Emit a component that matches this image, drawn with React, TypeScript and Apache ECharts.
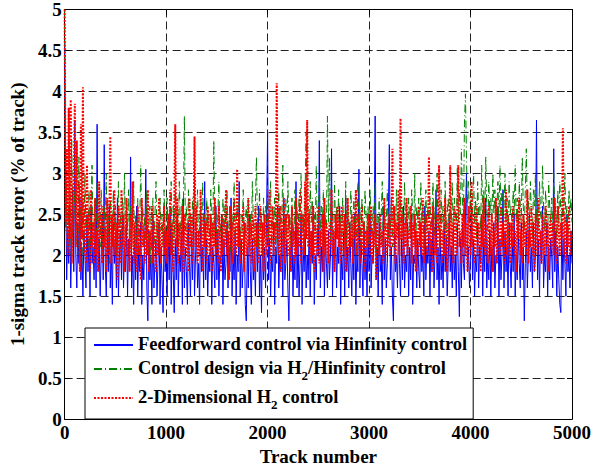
import React, { useEffect, useRef } from "react";
import * as echarts from "echarts";

// ---- data ----
const X_TICKS = [0, 1000, 2000, 3000, 4000, 5000];
const Y_TICKS = [0, 0.5, 1, 1.5, 2, 2.5, 3, 3.5, 4, 4.5, 5];
const TRACK_STEP = 10; // tracks between consecutive samples

const SERIES_NAMES = [
  "Feedforward control via Hinfinity control",
  "Control design via H2/Hinfinity control",
  "2-Dimensional H2 control",
];

const FEEDFORWARD = [
  4.6, 2.9, 1.7, 2.3, 1.9, 2.6, 1.6, 2.2, 2.8, 1.8,
  3.65, 2.0, 1.6, 2.4, 1.9, 2.7, 1.7, 2.1, 1.5, 2.3,
  2.0, 1.6, 2.5, 1.8, 2.2, 1.5, 2.6, 1.9, 2.1, 1.7,
  2.4, 1.6, 3.6, 1.8, 2.2, 1.5, 2.0, 2.5, 1.7, 3.35,
  1.9, 1.5, 2.3, 1.8, 2.6, 1.6, 2.1, 1.4, 2.4, 1.9,
  2.2, 1.6, 2.7, 1.5, 2.0, 2.3, 1.7, 2.5, 1.6, 2.1,
  1.8, 2.4, 1.5, 2.2, 1.9, 3.2, 1.6, 2.0, 1.4, 2.3,
  1.7, 2.6, 1.5, 2.1, 1.8, 2.4, 1.4, 2.0, 1.7, 2.2,
  3.05, 1.6, 1.2, 2.3, 1.7, 2.0, 1.4, 2.5, 1.6, 1.9,
  2.2, 1.5, 1.9, 2.4, 1.4, 2.1, 1.7, 1.3, 2.3, 1.8,
  2.0, 1.5, 2.4, 1.7, 2.6, 1.4, 2.1, 1.8, 1.3, 2.2,
  1.7, 2.5, 1.5, 2.0, 1.8, 2.3, 1.4, 2.7, 1.6, 2.1,
  1.8, 1.4, 2.4, 1.9, 1.5, 2.2, 1.7, 2.6, 1.5, 2.0,
  2.3, 1.6, 1.9, 1.4, 2.5, 1.8, 2.1, 1.6, 2.9, 1.7,
  2.2, 1.5, 2.0, 1.8, 2.4, 1.4, 2.1, 1.9, 1.6, 2.6,
  1.7, 2.3, 1.5, 2.0, 1.9, 2.5, 1.4, 2.2, 1.7, 1.9,
  2.4, 1.6, 2.1, 1.8, 2.7, 1.5, 2.0, 1.7, 2.3, 1.4,
  2.0, 1.8, 2.9, 1.5, 2.2, 1.6, 1.9, 2.4, 1.4, 1.2,
  2.1, 1.6, 2.5, 1.8, 1.4, 2.2, 1.7, 2.0, 1.5, 2.4,
  1.8, 2.6, 1.5, 2.0, 1.3, 2.3, 1.7, 2.1, 1.6, 2.5,
  3.5, 1.7, 2.2, 1.5, 2.0, 1.8, 2.4, 1.4, 2.1, 1.9,
  2.6, 1.6, 2.0, 1.8, 2.3, 1.5, 2.7, 1.7, 1.9, 2.2,
  1.6, 1.2, 2.1, 1.8, 2.4, 1.5, 2.0, 1.7, 2.9, 1.6,
  2.2, 1.5, 1.9, 2.5, 1.4, 2.1, 1.8, 2.3, 1.6, 2.0,
  1.7, 2.4, 1.5, 2.2, 1.9, 2.6, 1.4, 2.0, 1.7, 2.3,
  2.0, 3.4, 1.6, 2.1, 1.8, 2.5, 1.5, 2.2, 1.9, 1.6,
  2.3, 1.7, 2.0, 3.3, 1.5, 2.2, 1.8, 2.4, 1.6, 2.1,
  1.9, 2.6, 1.4, 2.0, 1.7, 2.3, 1.5, 2.7, 1.8, 2.1,
  1.6, 2.4, 1.9, 1.5, 2.2, 1.7, 2.5, 1.4, 2.0, 1.8,
  3.05, 1.6, 2.2, 1.9, 1.5, 2.4, 1.7, 2.1, 1.5, 2.3,
  1.8, 2.5, 1.6, 2.0, 1.9, 2.3, 3.7, 1.7, 2.1, 1.5,
  2.4, 1.8, 2.0, 1.4, 2.6, 1.7, 2.2, 1.6, 1.9, 2.5,
  3.35, 1.7, 2.1, 1.5, 1.2, 2.3, 1.8, 2.0, 1.6, 2.4,
  1.9, 1.5, 2.2, 1.7, 2.6, 1.6, 2.0, 1.8, 2.4, 1.5,
  2.1, 1.7, 2.5, 1.4, 2.0, 1.9, 2.3, 1.6, 2.2, 1.8,
  1.6, 2.4, 1.8, 2.0, 1.5, 2.6, 1.7, 2.1, 1.9, 2.3,
  1.5, 2.2, 1.8, 2.5, 1.6, 2.0, 2.8, 1.7, 2.1, 1.4,
  2.3, 1.7, 2.0, 1.6, 2.4, 1.8, 2.2, 1.5, 1.9, 2.5,
  1.8, 2.1, 1.6, 2.3, 1.7, 2.0, 1.5, 2.4, 1.8, 1.25,
  2.2, 1.6, 2.4, 1.9, 1.7, 2.5, 3.0, 1.8, 2.1, 1.6,
  2.0, 2.6, 1.7, 2.2, 1.5, 2.0, 1.8, 2.4, 1.6, 2.1,
  1.9, 2.5, 1.5, 2.2, 1.8, 2.7, 1.6, 2.0, 1.7, 2.3,
  1.5, 2.1, 1.8, 2.4, 1.6, 2.0, 1.9, 2.6, 1.5, 2.2,
  1.7, 2.0, 2.8, 1.6, 2.3, 1.8, 2.1, 1.5, 2.4, 1.9,
  1.6, 2.2, 1.8, 2.5, 1.5, 2.0, 1.7, 2.3, 1.9, 1.6,
  2.4, 1.7, 2.1, 1.2, 1.9, 2.3, 1.6, 2.0, 2.5, 1.8,
  2.1, 1.6, 2.4, 1.8, 2.0, 3.65, 1.7, 2.2, 1.5, 2.3,
  1.9, 2.6, 1.6, 2.0, 1.8, 2.4, 1.5, 2.1, 1.7, 2.2,
  2.0, 1.6, 3.3, 1.8, 2.3, 1.5, 2.1, 1.7, 1.4, 1.3,
  2.4, 1.7, 2.2, 1.9, 1.5, 2.5, 1.8, 2.0, 1.6, 2.3,
  1.9,
];

const H2_HINF = [
  5.0, 2.3, 2.9, 2.1, 2.6, 2.0, 2.7, 3.4, 2.2, 2.5,
  2.8, 2.1, 2.4, 2.0, 3.2, 2.3, 2.6, 1.9, 2.7, 2.2,
  3.0, 2.3, 2.5, 2.1, 2.8, 2.0, 2.6, 3.1, 2.2, 2.4,
  2.7, 2.0, 2.9, 2.3, 2.5, 2.1, 2.8, 2.4, 2.0, 2.6,
  2.3, 3.0, 2.2, 2.5, 1.9, 2.7, 2.4, 2.1, 2.8, 2.3,
  2.6, 2.0, 2.4, 2.9, 2.2, 2.5, 2.0, 2.7, 2.3, 3.0,
  2.1, 2.5, 2.3, 2.8, 2.0, 2.6, 2.2, 2.4, 2.9, 2.1,
  2.5, 2.2, 2.7, 2.0, 2.4, 3.1, 2.3, 2.6, 2.1, 2.5,
  2.2, 2.8, 2.0, 2.4, 2.6, 1.9, 2.3, 2.7, 2.1, 2.5,
  2.9, 2.2, 2.4, 2.0, 2.7, 2.3, 2.5, 2.1, 2.8, 2.2,
  2.4, 2.7, 2.1, 2.5, 2.3, 2.9, 2.0, 2.6, 2.2, 2.8,
  2.3, 2.6, 2.1, 2.9, 2.4, 2.2, 2.7, 2.5, 3.7, 2.3,
  2.6, 2.1, 2.8, 2.3, 2.5, 2.0, 2.7, 2.4, 3.0, 2.2,
  2.5, 2.8, 2.1, 2.4, 2.6, 2.2, 2.9, 2.3, 2.5, 2.0,
  2.7, 2.3, 2.5, 2.1, 2.8, 2.4, 2.2, 3.4, 2.3, 2.6,
  2.1, 2.5, 2.9, 2.2, 2.4, 2.0, 2.7, 2.3, 2.6, 2.2,
  2.8, 2.1, 2.4, 2.6, 2.0, 2.5, 2.3, 2.9, 2.2, 2.4,
  2.6, 2.2, 2.7, 2.0, 2.5, 2.3, 2.8, 2.1, 2.4, 2.6,
  2.3, 2.7, 2.1, 2.5, 2.2, 2.9, 2.4, 2.0, 2.6, 3.2,
  2.4, 2.1, 2.8, 2.3, 2.5, 2.0, 2.7, 2.2, 2.6, 2.4,
  2.8, 2.2, 2.5, 2.9, 2.1, 2.6, 2.3, 2.7, 2.0, 2.5,
  2.3, 2.8, 2.2, 2.6, 2.4, 3.1, 2.1, 2.5, 2.7, 2.2,
  2.9, 2.3, 2.5, 2.1, 2.7, 2.4, 2.2, 2.8, 2.3, 2.6,
  2.2, 2.7, 2.4, 3.0, 2.3, 2.5, 2.1, 2.8, 3.5, 2.4,
  2.6, 2.2, 2.9, 2.4, 2.7, 2.1, 2.5, 2.3, 3.1, 2.2,
  2.5, 2.9, 2.2, 2.6, 2.4, 2.8, 2.1, 2.5, 2.3, 3.7,
  2.4, 3.2, 2.2, 2.7, 2.5, 2.1, 2.9, 2.3, 2.6, 2.2,
  2.8, 2.3, 2.5, 2.0, 2.7, 2.4, 2.2, 2.9, 2.1, 2.6,
  2.4, 2.2, 2.8, 2.5, 2.1, 2.7, 2.3, 2.5, 2.0, 2.9,
  2.3, 2.6, 2.1, 2.7, 2.4, 2.2, 2.8, 2.5, 2.3, 2.6,
  2.1, 2.8, 2.4, 2.2, 2.6, 2.3, 2.9, 2.0, 2.5, 2.4,
  2.7, 2.2, 2.5, 2.9, 2.1, 2.6, 2.3, 2.4, 2.8, 2.2,
  2.5, 2.3, 2.7, 2.1, 2.6, 2.4, 2.2, 2.8, 2.3, 2.5,
  2.0, 2.7, 2.4, 2.6, 2.2, 2.9, 2.3, 2.5, 2.1, 2.7,
  2.4, 2.2, 2.8, 2.5, 2.3, 3.0, 2.1, 2.6, 2.4, 2.7,
  2.2, 2.9, 2.4, 2.6, 2.1, 2.5, 2.8, 2.3, 2.6, 2.4,
  2.7, 2.3, 2.5, 2.9, 2.2, 2.6, 2.4, 3.0, 2.3, 2.5,
  2.1, 2.8, 2.4, 2.6, 2.3, 2.9, 2.2, 2.5, 2.7, 2.3,
  2.6, 2.4, 2.9, 2.2, 2.7, 2.5, 2.3, 3.1, 2.4, 2.8,
  2.5, 3.3, 2.7, 2.4, 3.6, 3.97, 3.2, 2.6, 2.9, 2.4,
  2.8, 2.3, 2.6, 3.0, 2.4, 2.7, 2.2, 2.9, 2.5, 2.6,
  2.3, 3.1, 2.5, 2.8, 2.4, 3.2, 2.6, 2.3, 2.9, 2.5,
  2.7, 2.4, 3.0, 2.5, 2.8, 2.3, 2.6, 2.9, 2.4, 3.1,
  2.5, 2.8, 2.3, 2.6, 3.0, 2.4, 2.7, 2.2, 2.9, 2.5,
  2.6, 2.3, 2.8, 2.5, 3.1, 2.4, 2.7, 2.2, 2.9, 2.6,
  2.4, 3.2, 2.6, 2.3, 2.8, 3.3, 2.5, 2.7, 2.3, 2.9,
  2.5, 2.2, 2.8, 2.6, 3.0, 2.4, 2.7, 2.3, 2.9, 2.5,
  2.4, 3.1, 2.6, 2.3, 2.8, 2.5, 2.2, 2.9, 2.6, 2.4,
  2.7, 2.3, 3.0, 2.5, 2.6, 2.2, 2.8, 2.4, 2.9, 2.5,
  2.3, 2.7, 2.5, 3.0, 2.4, 2.6, 2.2, 2.8, 2.5, 2.7,
  2.4,
];

const TWO_D_H2 = [
  5.0, 2.4, 3.3, 2.0, 3.8, 2.2, 3.9, 1.9, 2.7, 3.0,
  3.85, 2.1, 3.4, 2.3, 2.9, 1.8, 3.6, 2.2, 4.05, 2.0,
  2.6, 1.9, 3.1, 2.2, 2.5, 1.8, 2.8, 2.1, 2.4, 1.9,
  2.7, 2.0, 2.3, 1.8, 2.9, 2.2, 2.5, 1.9, 2.6, 2.1,
  2.3, 1.8, 2.7, 2.0, 2.4, 3.45, 1.9, 2.5, 2.1, 2.8,
  2.0, 2.4, 1.7, 2.6, 2.2, 1.9, 2.8, 2.1, 2.5, 1.8,
  2.3, 2.7, 2.0, 2.2, 1.8, 2.5, 2.1, 2.9, 1.9, 2.4,
  2.2, 1.8, 2.6, 2.0, 2.4, 1.7, 2.7, 2.1, 2.3, 1.9,
  2.5, 2.0, 2.8, 1.8, 2.3, 2.1, 2.6, 1.9, 2.4, 2.2,
  1.8, 2.5, 2.0, 2.7, 2.2, 1.9, 2.4, 2.1, 2.6, 2.0,
  2.3, 1.9, 2.5, 2.1, 2.8, 2.0, 2.4, 1.8, 2.6, 3.6,
  2.1, 2.7, 1.9, 2.4, 2.2, 2.0, 2.6, 1.8, 2.5, 2.2,
  2.0, 2.4, 1.8, 2.7, 2.1, 2.5, 1.9, 2.3, 3.45, 2.1,
  2.6, 1.9, 2.3, 2.0, 2.8, 2.2, 1.8, 2.5, 2.1, 2.4,
  1.9, 2.6, 2.2, 2.0, 2.5, 1.8, 2.4, 2.1, 2.7, 2.0,
  2.3, 1.9, 2.6, 2.2, 1.8, 2.5, 2.0, 2.4, 2.1, 2.8,
  2.0, 2.3, 1.7, 2.6, 2.1, 2.4, 1.9, 2.7, 2.2, 2.0,
  3.05, 2.1, 2.5, 1.9, 2.3, 2.0, 2.6, 1.8, 2.4, 2.2,
  2.0, 2.7, 2.1, 2.4, 1.9, 2.5, 2.2, 1.8, 2.6, 2.1,
  2.4, 1.9, 2.3, 2.6, 2.0, 2.4, 1.8, 2.5, 2.2, 2.0,
  2.5, 2.1, 2.8, 1.9, 2.3, 2.6, 2.0, 2.4, 2.2, 4.1,
  2.3, 2.0, 2.6, 1.8, 2.4, 2.1, 2.7, 1.9, 2.5, 2.2,
  2.0, 2.5, 2.2, 1.8, 2.6, 2.1, 2.3, 1.9, 2.7, 2.0,
  2.4, 2.1, 2.8, 1.9, 2.3, 2.5, 2.0, 2.9, 2.2, 3.65,
  2.1, 2.5, 1.9, 2.3, 2.0, 2.6, 1.8, 2.4, 2.2, 2.0,
  2.6, 1.9, 2.3, 2.1, 2.5, 1.8, 2.7, 2.0, 2.4, 2.2,
  1.9, 2.4, 2.1, 2.8, 2.0, 2.3, 1.8, 2.5, 2.2, 2.6,
  2.1, 2.4, 1.9, 2.6, 2.2, 2.0, 2.5, 1.8, 2.3, 2.7,
  2.0, 2.3, 2.1, 2.5, 1.9, 2.4, 2.2, 2.8, 2.0, 2.3,
  2.5, 1.9, 2.2, 2.6, 2.0, 2.4, 1.8, 2.3, 2.1, 2.5,
  2.2, 2.0, 2.6, 1.9, 2.3, 2.1, 2.5, 1.7, 2.4, 2.2,
  2.0, 2.5, 2.1, 2.3, 1.9, 2.7, 2.2, 2.0, 2.4, 2.1,
  2.5, 2.0, 2.3, 3.3, 2.1, 2.6, 1.9, 2.4, 2.2, 2.8,
  2.0, 3.67, 2.2, 2.5, 1.9, 2.4, 2.1, 2.7, 2.0, 2.3,
  2.2, 2.6, 1.9, 2.4, 2.1, 2.5, 1.8, 2.3, 2.0, 2.6,
  2.1, 2.4, 2.0, 2.7, 1.9, 2.3, 2.5, 2.0, 2.2, 3.2,
  2.0, 2.4, 1.8, 2.6, 2.2, 2.0, 2.5, 1.9, 2.3, 3.1,
  2.1, 2.5, 1.9, 2.3, 2.0, 2.7, 2.2, 1.8, 2.4, 2.1,
  3.1, 2.0, 2.4, 1.9, 2.6, 2.2, 2.0, 2.5, 3.1, 2.1,
  2.3, 1.9, 2.5, 2.1, 2.7, 2.0, 2.4, 1.8, 2.6, 2.2,
  2.0, 2.9, 2.1, 2.5, 1.9, 2.3, 2.6, 2.0, 2.4, 2.2,
  1.8, 2.5, 2.1, 2.7, 2.0, 2.4, 2.2, 1.9, 2.6, 2.3,
  2.0, 2.5, 1.8, 2.3, 2.1, 2.7, 1.9, 2.4, 2.2, 2.0,
  2.6, 2.1, 2.4, 1.9, 2.3, 2.8, 2.0, 2.5, 2.2, 1.9,
  2.4, 2.1, 2.6, 2.0, 2.3, 1.8, 2.5, 2.2, 2.7, 2.0,
  2.3, 1.9, 2.5, 2.1, 2.4, 2.0, 2.8, 1.9, 2.3, 2.1,
  2.6, 2.0, 2.4, 1.8, 2.5, 2.2, 2.0, 2.7, 2.1, 2.3,
  1.9, 2.5, 2.2, 2.0, 2.6, 2.1, 2.4, 1.8, 2.3, 2.5,
  2.1, 2.4, 2.0, 2.7, 2.2, 1.9, 2.6, 2.3, 2.0, 2.4,
  2.2, 3.55, 2.0, 2.5, 1.9, 2.4, 2.1, 2.6, 2.0, 2.3,
  2.2,
];

const FONT = "Liberation Serif";

export default function App() {
  const ref = useRef<HTMLDivElement>(null);

  useEffect(() => {
    if (!ref.current) return;
    const chart = echarts.init(ref.current, null, { renderer: "svg" });
    const toPairs = (vals: number[]) => vals.map((v, i) => [i * TRACK_STEP, v]);

    const xMin = X_TICKS[0];
    const xMax = X_TICKS[X_TICKS.length - 1];
    const xInt = X_TICKS[1] - X_TICKS[0];
    const yMin = Y_TICKS[0];
    const yMax = Y_TICKS[Y_TICKS.length - 1];
    const yInt = Y_TICKS[1] - Y_TICKS[0];

    const labelStyle = { color: "#000", fontFamily: FONT, fontWeight: "bold" as const, fontSize: 19 };
    const axisLine = { show: true, onZero: false, lineStyle: { color: "#000", width: 1 } };
    const tick = { show: true, inside: true, length: 5, lineStyle: { color: "#000", width: 1 } };
    const grid = { show: true, lineStyle: { color: "#222", width: 1, type: [8, 4] as number[] } };
    const plainNum = (v: number) => String(v);

    const legendFmt = (name: string) => {
      const parts = name.split("H2");
      return parts.map((p) => (p ? `{n|${p}}` : "")).join("{n|H}{s|2}");
    };

    chart.setOption({
      animation: false,
      backgroundColor: "#fff",
      grid: { left: 63.5, right: 18, top: 7, bottom: 49, containLabel: false },
      xAxis: [
        {
          type: "value",
          min: xMin,
          max: xMax,
          interval: xInt,
          position: "bottom",
          name: "Track number",
          nameLocation: "middle",
          nameGap: 21,
          nameTextStyle: labelStyle,
          axisLine,
          axisTick: tick,
          axisLabel: { ...labelStyle, margin: 4, formatter: plainNum },
          splitLine: grid,
        },
        {
          type: "value",
          min: xMin,
          max: xMax,
          interval: xInt,
          position: "top",
          axisLine,
          axisTick: tick,
          axisLabel: { show: false },
          splitLine: { show: false },
        },
      ],
      yAxis: [
        {
          type: "value",
          min: yMin,
          max: yMax,
          interval: yInt,
          position: "left",
          name: "1-sigma track error (% of track)",
          nameLocation: "middle",
          nameGap: 31,
          nameTextStyle: labelStyle,
          axisLine,
          axisTick: tick,
          axisLabel: { ...labelStyle, margin: 3, formatter: plainNum },
          splitLine: grid,
        },
        {
          type: "value",
          min: yMin,
          max: yMax,
          interval: yInt,
          position: "right",
          axisLine,
          axisTick: tick,
          axisLabel: { show: false },
          splitLine: { show: false },
        },
      ],
      legend: {
        orient: "vertical",
        left: 85,
        top: 328,
        padding: [6, 6, 8, 8],
        itemGap: 5,
        itemWidth: 39,
        itemHeight: 14,
        backgroundColor: "#fff",
        borderColor: "#000",
        borderWidth: 1,
        borderRadius: 0,
        selectedMode: false,
        data: SERIES_NAMES,
        formatter: legendFmt,
        itemStyle: { opacity: 0 },
        textStyle: {
          ...labelStyle,
          fontSize: 18.5,
          rich: {
            n: { fontFamily: FONT, fontWeight: "bold", fontSize: 18.5, color: "#000", lineHeight: 22, verticalAlign: "top" },
            s: { fontFamily: FONT, fontWeight: "bold", fontSize: 13, color: "#000", lineHeight: 14, padding: [11, 0, 0, 0], verticalAlign: "top" },
          },
        },
      },
      series: [
        {
          name: SERIES_NAMES[0],
          type: "line",
          data: toPairs(FEEDFORWARD),
          symbol: "none",
          silent: true,
          lineStyle: { color: "#0000ff", width: 1 },
          itemStyle: { color: "#0000ff", opacity: 0 },
        },
        {
          name: SERIES_NAMES[1],
          type: "line",
          data: toPairs(H2_HINF),
          symbol: "none",
          silent: true,
          lineStyle: { color: "#008000", width: 1, type: [8, 3, 1, 3] },
          itemStyle: { color: "#008000", opacity: 0 },
        },
        {
          name: SERIES_NAMES[2],
          type: "line",
          data: toPairs(TWO_D_H2),
          symbol: "none",
          silent: true,
          lineStyle: { color: "#ff0000", width: 2, type: [2, 1.5] },
          itemStyle: { color: "#ff0000", opacity: 0 },
        },
      ],
    });

    return () => chart.dispose();
  }, []);

  return (
    <div
      ref={ref}
      style={{ position: "fixed", left: 0, top: 0, width: 594, height: 471, background: "#fff" }}
    />
  );
}
